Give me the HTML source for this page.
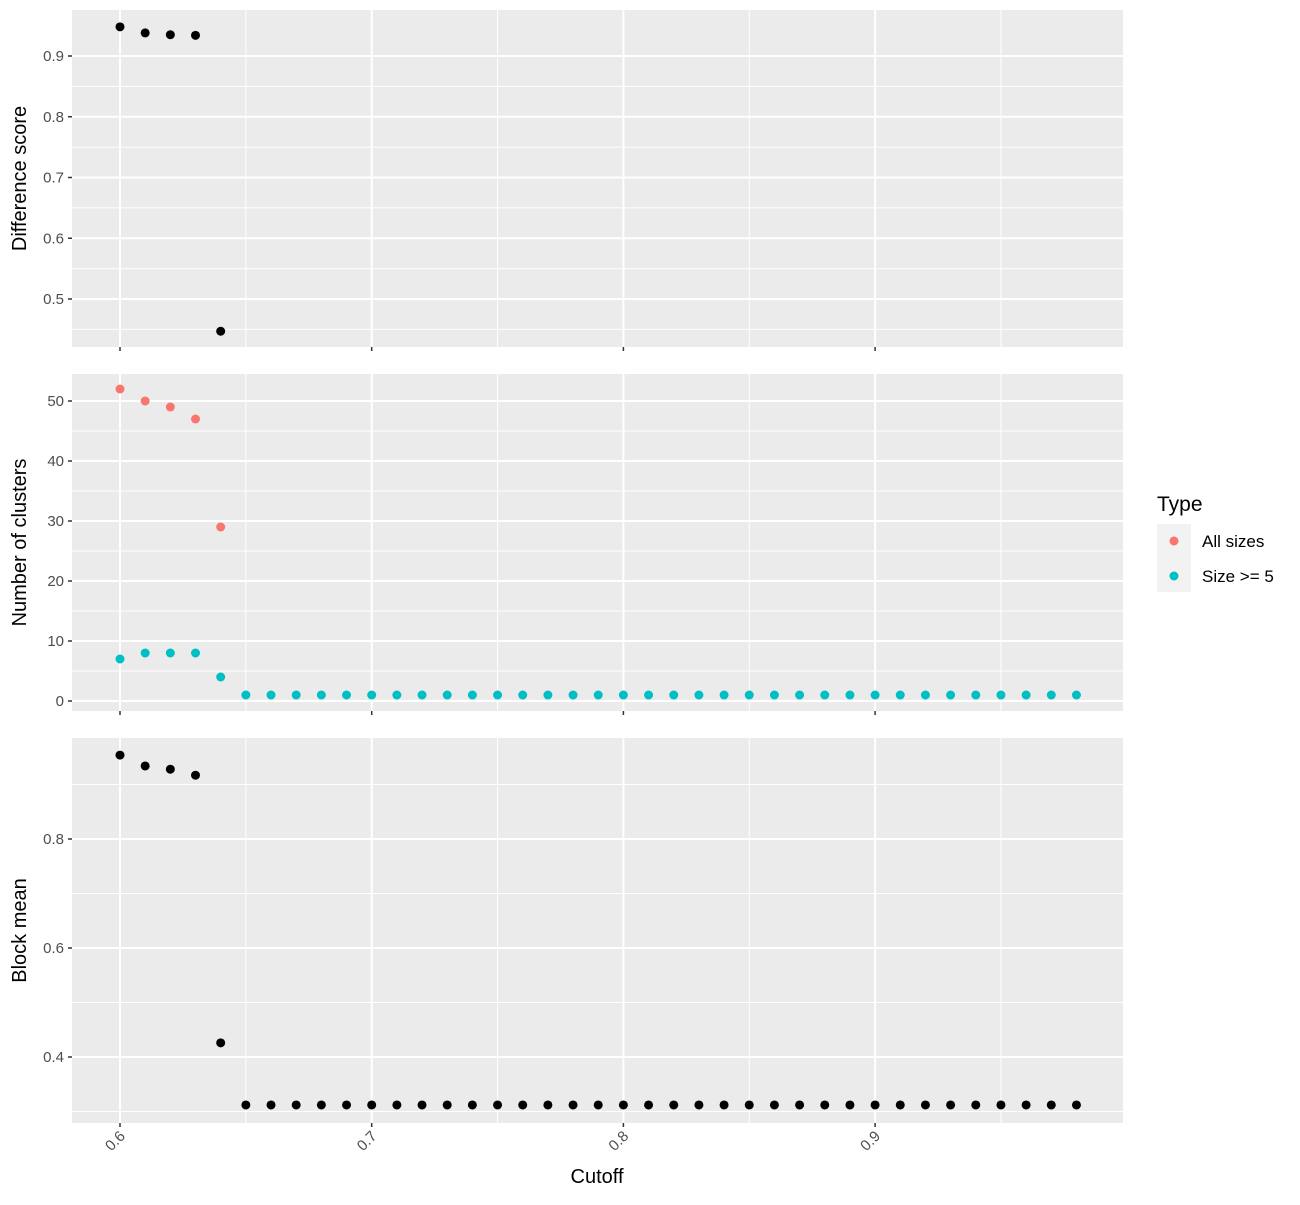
<!DOCTYPE html>
<html><head><meta charset="utf-8"><style>
html,body{margin:0;padding:0;background:#fff;}
svg text{font-family:"Liberation Sans",sans-serif;}
</style></head><body>
<svg id="chart" width="1300" height="1200" xmlns="http://www.w3.org/2000/svg"></svg>
<script>
const cutoffs = [0.60,0.61,0.62,0.63,0.64,0.65,0.66,0.67,0.68,0.69,0.70,0.71,0.72,0.73,0.74,0.75,0.76,0.77,0.78,0.79,0.80,0.81,0.82,0.83,0.84,0.85,0.86,0.87,0.88,0.89,0.90,0.91,0.92,0.93,0.94,0.95,0.96,0.97,0.98];
const diffCutoffs = [0.60,0.61,0.62,0.63,0.64];
const diffScore = [0.948,0.938,0.935,0.934,0.447];
const allSizesCutoffs = [0.60,0.61,0.62,0.63,0.64];
const allSizes = [52,50,49,47,29];
const size5 = [7,8,8,8,4,1,1,1,1,1,1,1,1,1,1,1,1,1,1,1,1,1,1,1,1,1,1,1,1,1,1,1,1,1,1,1,1,1,1];
const blockMean = [0.954,0.934,0.928,0.917,0.426,0.312,0.312,0.312,0.312,0.312,0.312,0.312,0.312,0.312,0.312,0.312,0.312,0.312,0.312,0.312,0.312,0.312,0.312,0.312,0.312,0.312,0.312,0.312,0.312,0.312,0.312,0.312,0.312,0.312,0.312,0.312,0.312,0.312,0.312];
const xTicks = [0.6,0.7,0.8,0.9];
const xMinor = [0.65,0.75,0.85,0.95];
const diffTicks = [0.5,0.6,0.7,0.8,0.9];
const diffMinor = [0.45,0.55,0.65,0.75,0.85];
const clusterTicks = [0,10,20,30,40,50];
const clusterMinor = [5,15,25,35,45];
const blockTicks = [0.4,0.6,0.8];
const blockMinor = [0.3,0.5,0.7,0.9];

const NS="http://www.w3.org/2000/svg";
const svg=document.getElementById('chart');
function mk(tag,attrs,parent){const e=document.createElementNS(NS,tag);for(const k in attrs)e.setAttribute(k,attrs[k]);(parent||svg).appendChild(e);return e;}
const L=72,R=1123;
const xs=v=>120+(v-0.6)*2517;
const panels=[
 {name:'difference-score',top:10,bot:347,y:v=>56+(0.9-v)*607.5,ticks:diffTicks,minor:diffMinor,fmt:v=>v.toFixed(1),title:'Difference score'},
 {name:'number-of-clusters',top:374,bot:711,y:v=>701-v*6,ticks:clusterTicks,minor:clusterMinor,fmt:v=>String(v),title:'Number of clusters'},
 {name:'block-mean',top:738,bot:1123,y:v=>839+(0.8-v)*545,ticks:blockTicks,minor:blockMinor,fmt:v=>v.toFixed(1),title:'Block mean'}
];
panels.forEach(p=>{
 const g=mk('g',{});
 
 
 mk('rect',{x:L,y:p.top,width:R-L,height:p.bot-p.top,fill:'#ebebeb'},g);
 p.minor.forEach(v=>mk('line',{x1:L,x2:R,y1:p.y(v),y2:p.y(v),stroke:'#fff','stroke-width':1},g));
 xMinor.forEach(v=>mk('line',{x1:xs(v),x2:xs(v),y1:p.top,y2:p.bot,stroke:'#fff','stroke-width':1},g));
 p.ticks.forEach(v=>{
  mk('line',{x1:L,x2:R,y1:p.y(v),y2:p.y(v),stroke:'#fff','stroke-width':2},g);
  mk('line',{x1:L-4,x2:L,y1:p.y(v),y2:p.y(v),stroke:'#333','stroke-width':1.5},g);
  const t=mk('text',{x:L-8,y:p.y(v)+5,'text-anchor':'end','font-size':15,fill:'#4d4d4d'},g);
  
  
  t.textContent=p.fmt(v);
 });
 xTicks.forEach(v=>{
  mk('line',{x1:xs(v),x2:xs(v),y1:p.top,y2:p.bot,stroke:'#fff','stroke-width':2},g);
  mk('line',{x1:xs(v),x2:xs(v),y1:p.bot,y2:p.bot+4,stroke:'#333','stroke-width':1.5},g);
 });
 const cy=(p.top+p.bot)/2;
 const yt=mk('text',{x:0,y:0,transform:`translate(26,${cy}) rotate(-90)`,'text-anchor':'middle','font-size':20,fill:'#000'},g);
 
 
 yt.textContent=p.title;
});
function pt(x,y,col,name){
 const c=mk('circle',{cx:x,cy:y,r:4.5,fill:col});
 
 
}
diffCutoffs.forEach((c,i)=>pt(xs(c),panels[0].y(diffScore[i]),'#000','difference-point'));
allSizesCutoffs.forEach((c,i)=>pt(xs(c),panels[1].y(allSizes[i]),'#F8766D','all-sizes-point'));
cutoffs.forEach((c,i)=>pt(xs(c),panels[1].y(size5[i]),'#00BFC4','size5-point'));
cutoffs.forEach((c,i)=>pt(xs(c),panels[2].y(blockMean[i]),'#000','block-mean-point'));
xTicks.forEach(v=>{
 const t=mk('text',{x:0,y:0,transform:`translate(${xs(v)+6},${1137}) rotate(-45)`,'text-anchor':'end','font-size':15,fill:'#4d4d4d'});
 
 
 t.textContent=v.toFixed(1);
});
const xt=mk('text',{x:597,y:1183,'text-anchor':'middle','font-size':20,fill:'#000'});


xt.textContent='Cutoff';
const lg=mk('g',{});


const lt=mk('text',{x:1157,y:511,'font-size':21,fill:'#000'},lg);


lt.textContent='Type';
mk('rect',{x:1157,y:524,width:34,height:68,fill:'#f2f2f2'},lg);
[['All sizes','#F8766D',541],['Size >= 5','#00BFC4',576]].forEach(([lab,col,y])=>{
 const c=mk('circle',{cx:1174,cy:y,r:4.5,fill:col},lg);
 
 
 const t=mk('text',{x:1202,y:y+6,'font-size':17,fill:'#000'},lg);
 
 
 t.textContent=lab;
});
</script>
</body></html>
